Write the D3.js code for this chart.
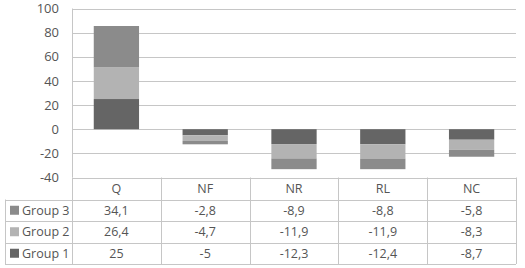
<!DOCTYPE html>
<html lang="en">
<head>
  <meta charset="UTF-8">
  <title>Stacked bars with data table</title>
  <style>
    body { margin: 0; background: #fff; }
    svg { display: block; font-family: "Open Sans", "Liberation Sans", sans-serif; }
    .grid line { stroke: #c6c6c6; stroke-width: 1; }
    .tick-label { fill: #555; font-size: 13px; text-anchor: end; }
    .cell { fill: #555; font-size: 12.5px; text-anchor: middle; }
    .tbl { stroke: #c6c6c6; stroke-width: 1; fill: none; }
  </style>
</head>
<body>
  <div id="chart"></div>
  <script src="https://d3js.org/d3.v7.min.js"></script>
  <script>
    // data
    const categories = ["Q", "NF", "NR", "RL", "NC"];
    const groups = ["Group 1", "Group 2", "Group 3"];
    const group1 = [25, -5, -12.3, -12.4, -8.7];
    const group2 = [26.4, -4.7, -11.9, -11.9, -8.3];
    const group3 = [34.1, -2.8, -8.9, -8.8, -5.8];
    const yTicks = [-40, -20, 0, 20, 40, 60, 80, 100];
    const groupColors = ["#656565", "#b3b3b3", "#8b8b8b"];

    const width = 525, height = 268;
    const plotLeft = 72, plotRight = 516;
    const plotTop = 8.5, plotBottom = 177.5;
    const rowH = [22, 21.5, 21.5, 21.5]; // header + 3 rows

    const rows = categories.map((c, i) => ({
      cat: c, "Group 1": group1[i], "Group 2": group2[i], "Group 3": group3[i]
    }));

    const svg = d3.select("#chart").append("svg")
      .attr("width", width).attr("height", height);

    const x = d3.scaleBand().domain(categories).range([plotLeft, plotRight]).paddingInner(0).paddingOuter(0);
    const y = d3.scaleLinear().domain([-40, 100]).range([plotBottom, plotTop]);
    const color = d3.scaleOrdinal().domain(groups).range(groupColors);

    // gridlines
    svg.append("g").attr("class", "grid")
      .selectAll("line").data(yTicks).enter().append("line")
      .attr("x1", plotLeft).attr("x2", plotRight)
      .attr("y1", d => Math.round(y(d)) + 0.5).attr("y2", d => Math.round(y(d)) + 0.5);

    // y tick labels
    svg.append("g").selectAll("text").data(yTicks).enter().append("text")
      .attr("class", "tick-label")
      .attr("x", 59).attr("y", d => y(d)).attr("dy", "0.36em")
      .text(d => d);

    // stacked bars
    const stack = d3.stack().keys(groups).offset(d3.stackOffsetDiverging);
    const series = stack(rows);
    const barW = x.bandwidth() * 0.51;
    svg.append("g").selectAll("g").data(series).enter().append("g")
      .attr("fill", d => color(d.key))
      .selectAll("rect").data(d => d).enter().append("rect")
      .attr("x", d => x(d.data.cat) + (x.bandwidth() - barW) / 2)
      .attr("width", barW)
      .attr("y", d => y(Math.max(d[0], d[1])))
      .attr("height", d => Math.abs(y(d[0]) - y(d[1])));

    // vertical axis line
    svg.append("line").attr("class", "tbl")
      .attr("x1", plotLeft + 0.5).attr("x2", plotLeft + 0.5)
      .attr("y1", plotTop).attr("y2", plotBottom);

    // data table
    const rowTops = [plotBottom];
    rowH.forEach(h => rowTops.push(rowTops[rowTops.length - 1] + h));
    const tableBottom = rowTops[rowTops.length - 1];
    const labelLeft = 5;
    const tbl = svg.append("g");

    // horizontal table lines
    rowTops.forEach((yy, i) => {
      tbl.append("line").attr("class", "tbl")
        .attr("x1", i === 0 ? plotLeft : labelLeft).attr("x2", plotRight)
        .attr("y1", Math.round(yy) + 0.5).attr("y2", Math.round(yy) + 0.5);
    });
    // vertical table lines
    const colEdges = categories.map(c => x(c)).concat([plotRight]);
    colEdges.forEach(xx => {
      tbl.append("line").attr("class", "tbl")
        .attr("x1", Math.round(xx) + 0.5).attr("x2", Math.round(xx) + 0.5)
        .attr("y1", plotBottom).attr("y2", tableBottom);
    });
    tbl.append("line").attr("class", "tbl")
      .attr("x1", labelLeft + 0.5).attr("x2", labelLeft + 0.5)
      .attr("y1", rowTops[1]).attr("y2", tableBottom);

    // header
    tbl.selectAll(".hdr").data(categories).enter().append("text")
      .attr("class", "cell")
      .attr("x", d => x(d) + x.bandwidth() / 2)
      .attr("y", (rowTops[0] + rowTops[1]) / 2).attr("dy", "0.36em")
      .text(d => d);

    // rows in table order: Group 3, Group 2, Group 1
    const tableRows = [
      { name: "Group 3", vals: group3 },
      { name: "Group 2", vals: group2 },
      { name: "Group 1", vals: group1 }
    ];
    const fmt = v => String(v).replace(".", ",");
    tableRows.forEach((r, i) => {
      const cy = (rowTops[i + 1] + rowTops[i + 2]) / 2;
      tbl.append("rect")
        .attr("x", 10).attr("y", cy - 4.5).attr("width", 9).attr("height", 9)
        .attr("fill", color(r.name));
      tbl.append("text").attr("class", "cell")
        .style("text-anchor", "start")
        .attr("x", 22).attr("y", cy).attr("dy", "0.36em")
        .text(r.name);
      tbl.selectAll(null).data(r.vals).enter().append("text")
        .attr("class", "cell")
        .attr("x", (d, j) => x(categories[j]) + x.bandwidth() / 2)
        .attr("y", cy).attr("dy", "0.36em")
        .text(d => fmt(d));
    });
  </script>
</body>
</html>
